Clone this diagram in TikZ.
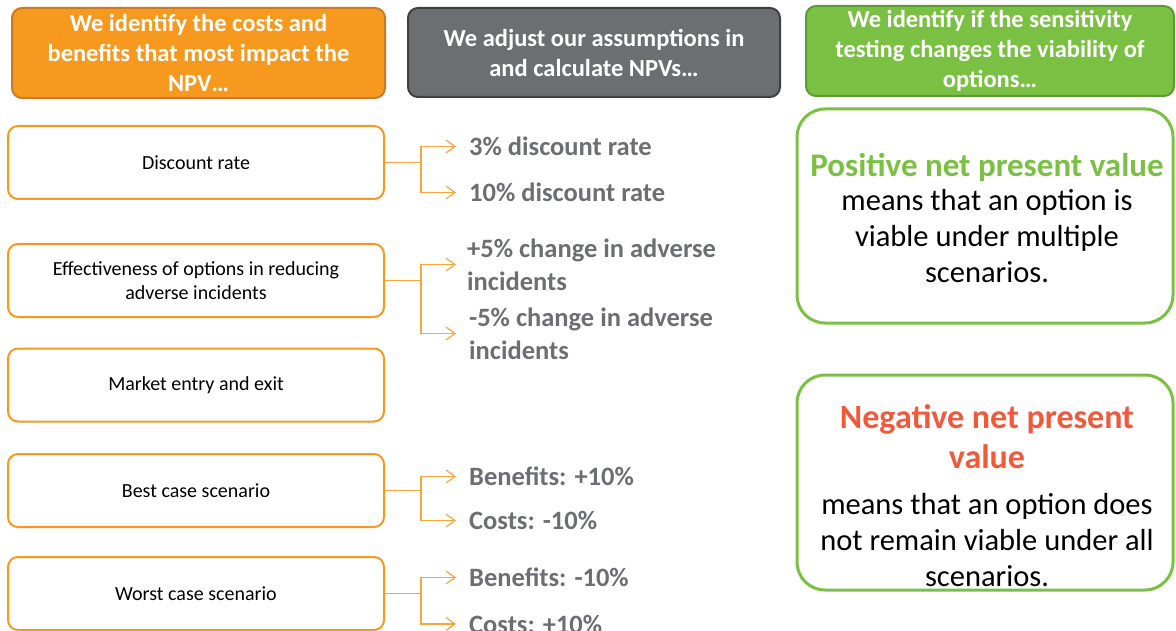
\documentclass[tikz,border=0pt]{standalone}
\usepackage{fontspec}
\setmainfont{Carlito}
\usetikzlibrary{arrows.meta}
\definecolor{orng}{HTML}{F7991F}
\definecolor{orngdk}{HTML}{C77B27}
\definecolor{gry}{HTML}{6D6E71}
\definecolor{grydk}{HTML}{404041}
\definecolor{grn}{HTML}{7AC143}
\definecolor{grndk}{HTML}{5E9A32}
\definecolor{redt}{HTML}{F05A3B}
\definecolor{lineo}{HTML}{F9A53F}
\newcommand\poshd[1]{{\color{grn}\fontsize{33}{34}\selectfont\bfseries #1}}
\newcommand\neghd[1]{{\color{redt}\fontsize{34}{40}\selectfont\bfseries #1}}
\begin{document}
\begin{tikzpicture}[x=1pt,y=-1pt,
  head/.style={rounded corners=10pt, line width=2pt, minimum height=90pt, align=center,
    text=white, font=\fontsize{24.5}{30}\selectfont\bfseries, inner sep=0pt},
  leftbox/.style={draw=orng, line width=2pt, fill=white, rounded corners=10pt,
    minimum width=376pt, minimum height=73pt, align=center,
    font=\fontsize{20}{24}\selectfont, inner sep=0pt},
  opt/.style={anchor=west, text=gry, font=\fontsize{26.5}{33}\selectfont\bfseries,
    align=left, inner sep=0pt},
  conn/.style={draw=lineo, line width=1.2pt},
  arr/.style={conn, -{Straight Barb[length=9pt,width=13pt]}, shorten >=13pt},
  rbox/.style={draw=grn, line width=3pt, rounded corners=28pt,
    minimum width=376pt, minimum height=214pt, inner sep=0pt},
  rtext/.style={align=center, font=\fontsize{30.5}{36}\selectfont, inner sep=0pt}
]
\useasboundingbox (0,0) rectangle (1176,631);

% headers
\node[head, fill=orng, draw=orngdk, minimum width=373pt] (h1) at (198.5,53)
  {We identify the costs and\\benefits that most impact the\\NPV…};
\node[head, fill=gry, draw=grydk, minimum width=372pt, minimum height=89pt] (h2) at (594,52.5)
  {We adjust our assumptions in\\and calculate NPVs…};
\node[head, fill=grn, draw=grndk, minimum width=368pt] (h3) at (990,51)
  {We identify if the sensitivity\\testing changes the viability of\\options…};

% left boxes
\node[leftbox] (b1) at (196,162.5) {Discount rate};
\node[leftbox] (b2) at (196,280.5) {Effectiveness of options in reducing\\adverse incidents};
\node[leftbox] (b3) at (196,385) {Market entry and exit};
\node[leftbox] (b4) at (196,490.5) {Best case scenario};
\node[leftbox] (b5) at (196,593.5) {Worst case scenario};

% options
\node[opt] (o1) at (469,146.5) {3\% discount rate};
\node[opt] (o2) at (469,192.5) {10\% discount rate};
\node[opt] (o3) at (467,264.5) {+5\% change in adverse\\incidents};
\node[opt] (o4) at (469,333.5) {-5\% change in adverse\\incidents};
\node[opt] (o5) at (469,476.5) {Benefits: +10\%};
\node[opt] (o6) at (469,520.5) {Costs: -10\%};
\node[opt] (o7) at (469,577.5) {Benefits: -10\%};
\node[opt] (o8) at (469,624) {Costs: +10\%};

% connectors
\draw[conn] (b1.east) -- ++(36,0) coordinate (j1);
\draw[arr] (j1) |- (o1.west);
\draw[arr] (j1) |- (o2.west);
\draw[conn] (b2.east) -- ++(36,0) coordinate (j2);
\draw[arr] (j2) |- ([xshift=2pt]o3.west);
\draw[arr] (j2) |- (o4.west);
\draw[conn] (b4.east) -- ++(36,0) coordinate (j4);
\draw[arr] (j4) |- (o5.west);
\draw[arr] (j4) |- (o6.west);
\draw[conn] (b5.east) -- ++(36,0) coordinate (j5);
\draw[arr] (j5) |- (o7.west);
\draw[arr] (j5) |- (o8.west);

% right boxes
\node[rbox] (r1) at (985,216) {};
\node[rbox, minimum height=215pt] (r2) at (985,482.5) {};
\node[rtext] (t1) at (987,218)
  {\poshd{Positive net present value}\\[-2pt]
   means that an option is\\viable under multiple\\scenarios.};
\node[rtext] (t2) at (987,495.5)
  {\neghd{Negative net present}\\[4pt]\neghd{value}\\[10pt]
   means that an option does\\not remain viable under all\\scenarios.};
\end{tikzpicture}
\end{document}
